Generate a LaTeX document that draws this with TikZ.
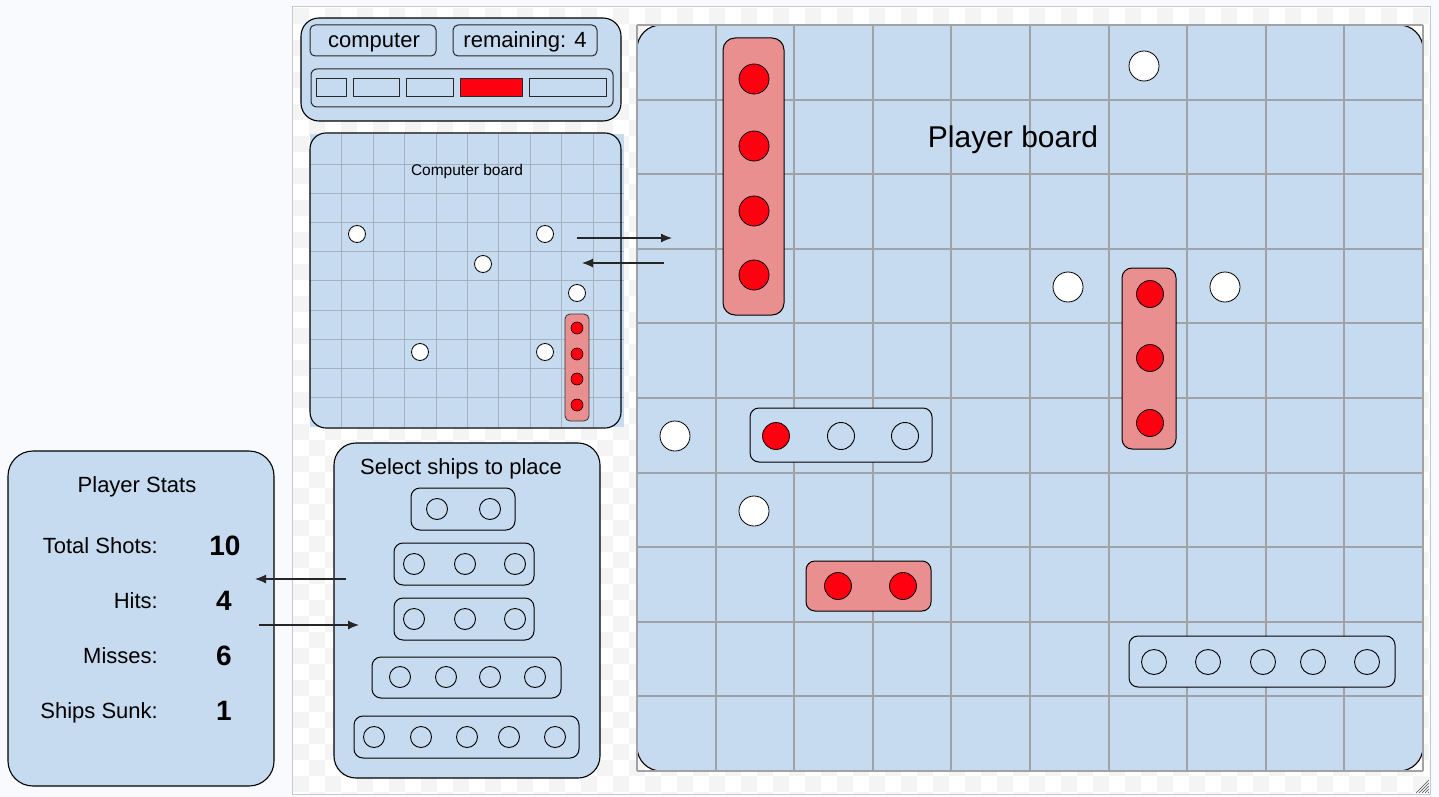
\documentclass[tikz,border=0pt]{standalone}
\usepackage{fontspec}
\setmainfont{Liberation Sans}
\usetikzlibrary{arrows.meta}
\definecolor{pagebg}{RGB}{248,250,253}
\definecolor{boardblue}{RGB}{198,219,239}
\definecolor{shippink}{RGB}{234,143,143}
\definecolor{hitred}{RGB}{255,0,16}
\definecolor{checkgrey}{RGB}{244,244,244}
\definecolor{framegrey}{RGB}{200,200,200}
\definecolor{gridgrey}{RGB}{160,162,165}
\definecolor{smallgrid}{RGB}{165,178,190}
\definecolor{inkgrey}{RGB}{40,40,40}
\tikzset{
  panel/.style={fill=boardblue, draw=black, line width=1.1pt},
  subbox/.style={draw=inkgrey, line width=1pt, rounded corners=5},
  shipbox/.style={draw=black, line width=1pt, rounded corners=9},
  hit/.style={circle, fill=hitred, draw=black, line width=0.8pt, inner sep=0pt},
  miss/.style={circle, fill=white, draw=black, line width=0.8pt, inner sep=0pt},
  slot/.style={circle, draw=black, line width=0.9pt, inner sep=0pt},
  arr/.style={-{Latex[length=11pt,width=9pt]}, line width=1.1pt, draw=black!85},
  gridline/.style={draw=gridgrey, line width=1.8pt},
  cgridline/.style={draw=smallgrid, line width=1pt},
  lbl/.style={inner sep=0pt, anchor=base, font=\fontsize{22}{26}\selectfont},
  val/.style={inner sep=0pt, anchor=base, font=\fontsize{28}{32}\selectfont\bfseries},
}
\begin{document}
\begin{tikzpicture}[x=1pt,y=-1pt]
\useasboundingbox (0,0) rectangle (1439,797);
\fill[pagebg] (0,0) rectangle (1439,797);
% frame with checker background
\draw[framegrey, fill=white, line width=1pt] (292,7) rectangle (1430,794);
\begin{scope}
  \clip (292.5,7.5) rectangle (1429.5,793.5);
  \foreach \j in {0,...,49} {
    \pgfmathsetmacro\off{mod(\j,2)*16}
    \foreach \i in {0,...,35} {
      \fill[checkgrey] ({293+\off+32*\i},{8+16*\j}) rectangle +(16,16);
    }
  }
\end{scope}
% resize grip
\foreach \k in {0,...,4} {
  \draw[black!70, line width=0.6pt] ({1416+3*\k},793) -- (1429,{780+3*\k});
}

% ---------------- Player board ----------------
\fill[boardblue, rounded corners=24] (637,25) rectangle (1423,771);
\draw[black, line width=1.1pt, rounded corners=24] (637,25) rectangle (1423,771);
\foreach \k in {0,...,10} {
  \pgfmathsetmacro\gx{round(637+78.6*\k)}
  \pgfmathsetmacro\gy{round(25+74.6*\k)}
  \draw[gridline] (\gx,25) -- (\gx,771);
  \draw[gridline] (637,\gy) -- (1423,\gy);
}
\node[inner sep=0pt, anchor=base, font=\fontsize{30}{34}\selectfont] (ptitle) at (1013,147) {Player board};

% ship 1 (vertical, 4 hits)
\draw[shipbox, fill=shippink, rounded corners=12] (723,38) rectangle (784,315);
\foreach \y [count=\n] in {79,146,211,275} {
  \node[hit, minimum size=30pt] (pa\n) at (754,\y) {};
}
% ship 2 (vertical, 3 hits)
\draw[shipbox, fill=shippink, rounded corners=10] (1122,268) rectangle (1176,449);
\foreach \y [count=\n] in {294,358,423} {
  \node[hit, minimum size=27pt] (pb\n) at (1150,\y) {};
}
% ship 3 (horizontal, one hit)
\draw[shipbox, fill=boardblue] (750,408) rectangle (932,462);
\node[hit, minimum size=27pt] (pc1) at (776,436) {};
\node[slot, minimum size=27pt] (pc2) at (841,436) {};
\node[slot, minimum size=27pt] (pc3) at (905,436) {};
% ship 4 (horizontal, 2 hits)
\draw[shipbox, fill=shippink] (806,561) rectangle (931,611);
\node[hit, minimum size=27pt] (pd1) at (838,586) {};
\node[hit, minimum size=27pt] (pd2) at (903,586) {};
% ship 5 (horizontal, none)
\draw[shipbox, fill=boardblue] (1129,636) rectangle (1395,687);
\foreach \x [count=\n] in {1154,1208,1263,1313,1367} {
  \node[slot, minimum size=25pt] (pe\n) at (\x,662) {};
}
% misses
\node[miss, minimum size=30pt] (pm1) at (1144,66) {};
\node[miss, minimum size=30pt] (pm2) at (1068,287) {};
\node[miss, minimum size=30pt] (pm3) at (1225,287) {};
\node[miss, minimum size=30pt] (pm4) at (675,436) {};
\node[miss, minimum size=30pt] (pm5) at (754,511) {};

% ---------------- Top status panel ----------------
\draw[panel, rounded corners=18] (301,18) rectangle (621,121);
\draw[subbox] (310,25) rectangle (436,56);
\node[inner sep=0pt, anchor=base, font=\fontsize{22}{26}\selectfont] (who) at (374,48) {computer};
\draw[subbox] (453,25) rectangle (597,56);
\node[inner sep=0pt, anchor=base, font=\fontsize{22}{26}\selectfont] (rem) at (525,48) {remaining: 4};
\draw[subbox, rounded corners=6] (311,69) rectangle (613,107);
\draw[draw=inkgrey, line width=1pt] (316,79) rectangle (346,97);
\draw[draw=inkgrey, line width=1pt] (353,79) rectangle (399,97);
\draw[draw=inkgrey, line width=1pt] (406,79) rectangle (453,97);
\draw[draw=inkgrey, line width=1pt, fill=hitred] (460,79) rectangle (522,97);
\draw[draw=inkgrey, line width=1pt] (529,79) rectangle (606,97);

% ---------------- Computer board ----------------
\fill[boardblue] (310,134) rectangle (624,427);
\foreach \k in {1,...,9} {
  \pgfmathsetmacro\cx{round(310+31.4*\k)}
  \pgfmathsetmacro\cy{round(134.5+29.2*\k)}
  \draw[cgridline] (\cx,134) -- (\cx,427);
  \draw[cgridline] (310,\cy) -- (624,\cy);
}
\draw[black, line width=1.1pt, rounded corners=16] (310,133) rectangle (621,428);
\node[inner sep=0pt, anchor=base, font=\fontsize{15.5}{18}\selectfont] (ctitle) at (467,175) {Computer board};
\foreach \x/\y [count=\n] in {357/234, 545/234, 483/264, 577/293, 420/352, 545/352} {
  \node[miss, minimum size=17pt] (cm\n) at (\x,\y) {};
}
\draw[draw=black!80, line width=0.8pt, fill=shippink, rounded corners=5] (565,314) rectangle (589,421);
\foreach \y [count=\n] in {328,354,379,405} {
  \node[hit, minimum size=12pt, line width=0.6pt] (ch\n) at (577,\y) {};
}

% arrows between boards
\coordinate (a1s) at (577,238);
\coordinate (a1e) at (672,238);
\coordinate (a2s) at (664,263);
\coordinate (a2e) at (582,263);
\draw[arr] (a1s) -- (a1e);
\draw[arr] (a2s) -- (a2e);

% ---------------- Player stats ----------------
\draw[panel, rounded corners=25] (8,451) rectangle (274,786);
\node[lbl] (stitle) at (137,492) {Player Stats};
\node[lbl, anchor=base east] (l1) at (158,553) {Total Shots:};
\node[lbl, anchor=base east] (l2) at (158,608) {Hits:};
\node[lbl, anchor=base east] (l3) at (158,663) {Misses:};
\node[lbl, anchor=base east] (l4) at (158,718) {Ships Sunk:};
\node[val] (v1) at (225,555) {10};
\node[val] (v2) at (224,610) {4};
\node[val] (v3) at (224,665) {6};
\node[val] (v4) at (224,720) {1};

% ---------------- Select ships ----------------
\draw[panel, rounded corners=22] (334,443) rectangle (600,778);
\node[lbl] (seltitle) at (461,474) {Select ships to place};
\draw[shipbox] (411,488) rectangle (515,530);
\foreach \x [count=\n] in {437,490} { \node[slot, minimum size=21pt] (sa\n) at (\x,509) {}; }
\draw[shipbox] (394,543) rectangle (534,585);
\foreach \x [count=\n] in {414,465,515} { \node[slot, minimum size=21pt] (sb\n) at (\x,564) {}; }
\draw[shipbox] (394,598) rectangle (534,640);
\foreach \x [count=\n] in {414,465,515} { \node[slot, minimum size=21pt] (sc\n) at (\x,619) {}; }
\draw[shipbox] (372,657) rectangle (561,698);
\foreach \x [count=\n] in {400,446,490,535} { \node[slot, minimum size=21pt] (sd\n) at (\x,677) {}; }
\draw[shipbox] (354,716) rectangle (579,758);
\foreach \x [count=\n] in {374,421,467,509,555} { \node[slot, minimum size=21pt] (se\n) at (\x,737) {}; }

% arrows between stats and ship selector
\coordinate (b1s) at (346,579);
\coordinate (b1e) at (255,579);
\coordinate (b2s) at (259,625);
\coordinate (b2e) at (359,625);
\draw[arr] (b1s) -- (b1e);
\draw[arr] (b2s) -- (b2e);
\end{tikzpicture}
\end{document}
